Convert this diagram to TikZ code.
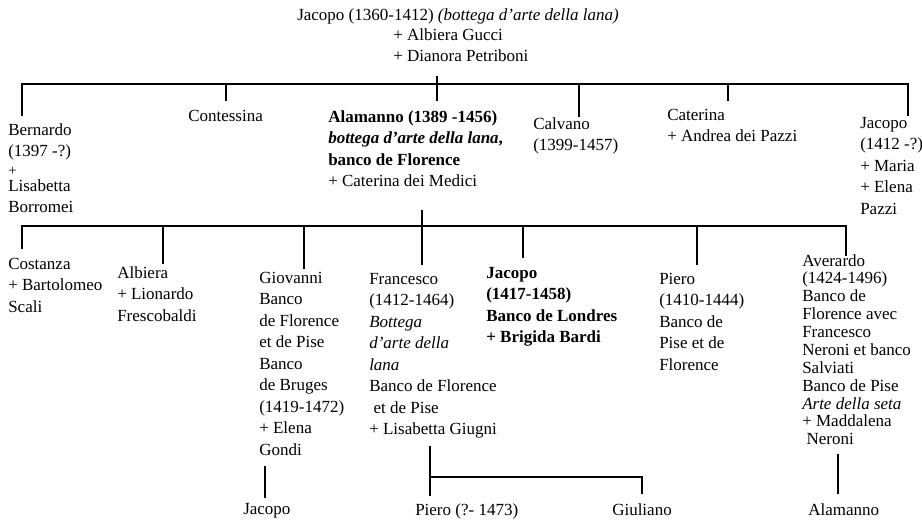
\documentclass[tikz,border=0pt]{standalone}
\usepackage{fontspec}
\setmainfont{Liberation Serif}
\begin{document}
\begin{tikzpicture}[x=0.75pt,y=-0.75pt,
  txt/.style={anchor=north west, inner sep=0pt, align=left, font=\fontsize{12.75pt}{16.1pt}\selectfont},
  tight/.style={font=\fontsize{12.75pt}{13.4pt}\selectfont},
  conn/.style={line width=1pt, line cap=rect}]
\useasboundingbox (0,0) rectangle (922,519);
% generation 1
\node[txt] (top) at (297,8) {Jacopo (1360-1412) \textit{(bottega d’arte della lana)}};
\node[txt] (topsp) at (393,28) {+ Albiera Gucci\\+ Dianora Petriboni};
% generation 2
\node[txt] (bern) at (8,123) {Bernardo\\(1397 -?)\\[-2pt]{\fontsize{11pt}{13pt}\selectfont +}\\[-4pt]Lisabetta\\Borromei};
\node[txt] (cont) at (188,110) {Contessina};
\node[txt] (alam) at (328,110) {\textbf{Alamanno (1389 -1456)}\\\textbf{\textit{bottega d’arte della lana},}\\\textbf{banco de Florence}\\+ Caterina dei Medici};
\node[txt] (calv) at (533,117) {Calvano\\(1399-1457)};
\node[txt] (cate) at (667,109) {Caterina\\+ Andrea dei Pazzi};
\node[txt] (jacA) at (860,117) {Jacopo\\(1412 -?)\\+ Maria\\+ Elena\\Pazzi};
% generation 3
\node[txt] (cost) at (8,258) {Costanza\\+ Bartolomeo\\Scali};
\node[txt] (albi) at (117,266) {Albiera\\+ Lionardo\\Frescobaldi};
\node[txt] (giov) at (259,272) {Giovanni\\Banco\\de Florence\\et de Pise\\Banco\\de Bruges\\(1419-1472)\\+ Elena\\Gondi};
\node[txt] (fran) at (369,273) {Francesco\\(1412-1464)\\\textit{Bottega}\\\textit{d’arte della}\\\textit{lana}\\Banco de Florence\\\ et de Pise\\+ Lisabetta Giugni};
\node[txt, font=\fontsize{12.75pt}{16.1pt}\selectfont\bfseries] (jacB) at (486,267) {Jacopo\\(1417-1458)\\Banco de Londres\\+ Brigida Bardi};
\node[txt] (pier) at (659,273) {Piero\\(1410-1444)\\Banco de\\Pise et de\\Florence};
\node[txt, tight] (aver) at (802,254) {Averardo\\(1424-1496)\\Banco de\\Florence avec\\Francesco\\Neroni et banco\\Salviati\\Banco de Pise\\\textit{Arte della seta}\\+ Maddalena\\\ Neroni};
% generation 4
\node[txt] (jacC) at (243,503) {Jacopo};
\node[txt] (pierB) at (415,503) {Piero (?- 1473)};
\node[txt] (giul) at (612,503) {Giuliano};
\node[txt] (alamB) at (808,503) {Alamanno};
% connectors, generation 1 -> 2
\coordinate (busAL) at (22,84);
\coordinate (busAR) at (908,84);
\draw[conn] (busAL) -- (busAR);
\coordinate (topdrop) at (437,77);
\coordinate (alamtop) at (437,100);
\draw[conn] (topdrop) -- (alamtop);
\foreach \n/\x/\yb in {bern/22/115, cont/226/100, calv/579/116, cate/728/100, jacA/908/115}{
  \coordinate (\n-up) at (\x,84);
  \coordinate (\n-dn) at (\x,\yb);
  \draw[conn] (\n-up) -- (\n-dn);
}
% connectors, generation 2 -> 3
\coordinate (busBL) at (22,226);
\coordinate (busBR) at (846,226);
\draw[conn] (busBL) -- (busBR);
\coordinate (alamdrop) at (422,211);
\coordinate (frantop) at (422,264);
\draw[conn] (alamdrop) -- (frantop);
\foreach \n/\x/\yb in {cost/22/248, albi/163/263, giov/304/268, jacB/523/257, pier/697/264, aver/846/255}{
  \coordinate (\n-up) at (\x,226);
  \coordinate (\n-dn) at (\x,\yb);
  \draw[conn] (\n-up) -- (\n-dn);
}
% connectors, generation 3 -> 4
\coordinate (giovdrop) at (265,467);
\coordinate (jacCtop) at (265,497);
\draw[conn] (giovdrop) -- (jacCtop);
\coordinate (frandrop) at (430,447);
\coordinate (pierBtop) at (430,495);
\coordinate (franbus) at (430,477);
\coordinate (giulbus) at (642,477);
\coordinate (giultop) at (642,493);
\draw[conn] (frandrop) -- (pierBtop);
\draw[conn] (franbus) -- (giulbus) -- (giultop);
\coordinate (averdrop) at (838,455);
\coordinate (alamBtop) at (838,493);
\draw[conn] (averdrop) -- (alamBtop);
\end{tikzpicture}
\end{document}
